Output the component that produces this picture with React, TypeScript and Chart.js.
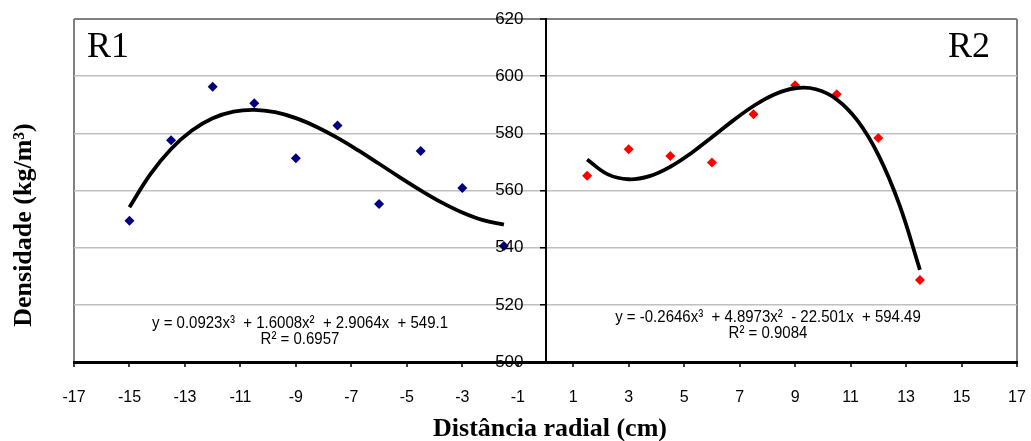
import React, { useEffect, useRef } from "react";
import { Chart, registerables } from "chart.js";

Chart.register(...registerables);

// Measured points
const R1_X = [-15, -13.5, -12, -10.5, -9, -7.5, -6, -4.5, -3, -1.5];
const R1_Y = [549.4, 577.6, 596.3, 590.5, 571.3, 582.7, 555.3, 573.8, 560.9, 540.6];
const R2_X = [1.5, 3, 4.5, 6, 7.5, 9, 10.5, 12, 13.5];
const R2_Y = [565.2, 574.4, 572.1, 569.8, 586.7, 596.8, 593.7, 578.4, 528.7];

// Trend line samples
const R1_TREND_X = [-15, -14.25, -13.5, -12.75, -12, -11.25, -10.5, -9.75, -9, -8.25, -7.5, -6.75, -6, -5.25, -4.5, -3.75, -3, -2.25, -1.5];
const R1_TREND_Y = [554.17, 565.66, 574.52, 580.96, 585.25, 587.58, 588.22, 587.39, 585.31, 582.24, 578.41, 574.03, 569.35, 564.6, 560.03, 555.84, 552.3, 549.61, 548.03];
const R2_TREND_X = [1.5, 2.25, 3, 3.75, 4.5, 5.25, 6, 6.75, 7.5, 8.25, 9, 9.75, 10.5, 11.25, 12, 12.75, 13.5];
const R2_TREND_Y = [570.86, 565.64, 563.93, 565.03, 568.3, 573.05, 578.63, 584.36, 589.57, 593.6, 595.77, 595.41, 591.85, 584.42, 572.46, 555.29, 532.24];

// Axis settings
const X_MIN = -17;
const X_MAX = 17;
const X_STEP = 2;
const Y_MIN = 500;
const Y_MAX = 620;
const Y_STEP = 20;

// Texts
const X_TITLE = "Distância radial (cm)";
const Y_TITLE = "Densidade (kg/m³)";
const PANEL_LABELS = ["R1", "R2"];
const R1_EQ = ["y = 0.0923x³  + 1.6008x²  + 2.9064x  + 549.1", "R² = 0.6957"];
const R2_EQ = ["y = -0.2646x³  + 4.8973x²  - 22.501x  + 594.49", "R² = 0.9084"];

const zip = (xs: number[], ys: number[]) => xs.map((x, i) => ({ x, y: ys[i] }));

const textPlugin = {
  id: "texts",
  afterDraw(chart: any) {
    const ctx = chart.ctx as CanvasRenderingContext2D;
    const ys = chart.scales.y;
    const xs = chart.scales.x;
    ctx.save();
    ctx.fillStyle = "#000";

    // Y tick labels, placed left of the central y axis
    const axisX = xs.getPixelForValue(0);
    ctx.font = "17px 'Liberation Sans', Arial, sans-serif";
    ctx.textAlign = "right";
    ctx.textBaseline = "middle";
    ys.ticks.forEach((t: any) => {
      ctx.fillText(String(t.value), axisX - 22, ys.getPixelForValue(t.value));
    });

    // Panel labels
    ctx.font = "36px 'Liberation Serif', 'Times New Roman', serif";
    ctx.textBaseline = "alphabetic";
    ctx.textAlign = "left";
    ctx.fillText(PANEL_LABELS[0], 87, 57);
    ctx.textAlign = "right";
    ctx.fillText(PANEL_LABELS[1], 990, 57);

    // Equations
    const drawEq = (lines: string[], cx: number, yy: number[]) => {
      lines.forEach((t, i) => {
        ctx.save();
        ctx.translate(cx, yy[i]);
        ctx.scale(1, 1.15);
        ctx.font = "15px 'Liberation Sans', Arial, sans-serif";
        ctx.textAlign = "center";
        ctx.textBaseline = "middle";
        ctx.fillText(t, 0, 0);
        ctx.restore();
      });
    };
    drawEq(R1_EQ, 300, [323, 339]);
    drawEq(R2_EQ, 768, [317, 333.5]);

    // Axis titles
    ctx.font = "bold 26px 'Liberation Serif', 'Times New Roman', serif";
    ctx.textAlign = "center";
    ctx.textBaseline = "alphabetic";
    ctx.fillText(X_TITLE, 550, 435.5);

    ctx.save();
    ctx.translate(24, 225);
    ctx.rotate(-Math.PI / 2);
    ctx.textBaseline = "middle";
    ctx.fillText(Y_TITLE, 0, 0);
    ctx.restore();

    ctx.restore();
  },
};

export default function App() {
  const ref = useRef<HTMLCanvasElement | null>(null);

  useEffect(() => {
    if (!ref.current) return;
    const chart = new Chart(ref.current, {
      type: "scatter",
      data: {
        datasets: [
          {
            label: "R1 trend",
            data: zip(R1_TREND_X, R1_TREND_Y),
            showLine: true,
            borderColor: "#000",
            borderWidth: 3.8,
            pointRadius: 0,
            tension: 0.4,
            fill: false,
          },
          {
            label: "R2 trend",
            data: zip(R2_TREND_X, R2_TREND_Y),
            showLine: true,
            borderColor: "#000",
            borderWidth: 3.8,
            pointRadius: 0,
            tension: 0.4,
            fill: false,
          },
          {
            label: "R1",
            data: zip(R1_X, R1_Y),
            pointStyle: "rectRot",
            pointRadius: 5,
            backgroundColor: "#000080",
            borderColor: "#000080",
            borderWidth: 0,
            showLine: false,
          },
          {
            label: "R2",
            data: zip(R2_X, R2_Y),
            pointStyle: "rectRot",
            pointRadius: 5,
            backgroundColor: "#ff0000",
            borderColor: "#ff0000",
            borderWidth: 0,
            showLine: false,
          },
        ],
      },
      options: {
        animation: false,
        responsive: false,
        devicePixelRatio: 1,
        layout: { padding: { left: 74, right: 14, top: 19, bottom: 0 } },
        plugins: {
          legend: { display: false },
          tooltip: { enabled: false },
          title: { display: false },
        },
        scales: {
          x: {
            type: "linear",
            position: "bottom",
            min: X_MIN,
            max: X_MAX,
            afterFit: (scale: any) => {
              scale.height = 79;
              scale.paddingLeft = 0;
              scale.paddingRight = 0;
            },
            ticks: {
              stepSize: X_STEP,
              color: "#000",
              padding: 21,
              maxRotation: 0,
              autoSkip: false,
              font: { family: "'Liberation Sans', Arial, sans-serif", size: 16 },
            },
            grid: {
              drawOnChartArea: true,
              color: (c: any) => (c.tick && (c.tick.value === X_MIN || c.tick.value === X_MAX) ? "#808080" : "rgba(0,0,0,0)"),
              lineWidth: 2,
              tickLength: 5,
              tickColor: "#000",
              tickWidth: 1.5,
            },
            border: { display: true, color: "#000", width: 3 },
          },
          y: {
            type: "linear",
            position: { x: 0 } as any,
            min: Y_MIN,
            max: Y_MAX,
            afterFit: (scale: any) => {
              scale.width = 0;
            },
            ticks: {
              stepSize: Y_STEP,
              display: false,
            },
            grid: {
              drawOnChartArea: true,
              color: (c: any) => {
                const v = c.tick && c.tick.value;
                if (v === Y_MAX) return "#808080";
                if (v === Y_MIN) return "rgba(0,0,0,0)";
                return "#c0c0c0";
              },
              lineWidth: (c: any) => (c.tick && c.tick.value === Y_MAX ? 2 : 1.5),
              tickLength: 5,
              tickColor: "#000",
              tickWidth: 1.5,
            },
            border: { display: true, color: "#000", width: 2 },
          },
        },
      },
      plugins: [textPlugin],
    });
    return () => chart.destroy();
  }, []);

  return (
    <div style={{ position: "absolute", left: 0, top: 0, width: 1031, height: 441, background: "#fff" }}>
      <canvas ref={ref} width={1031} height={441} style={{ display: "block", width: 1031, height: 441 }} />
    </div>
  );
}
